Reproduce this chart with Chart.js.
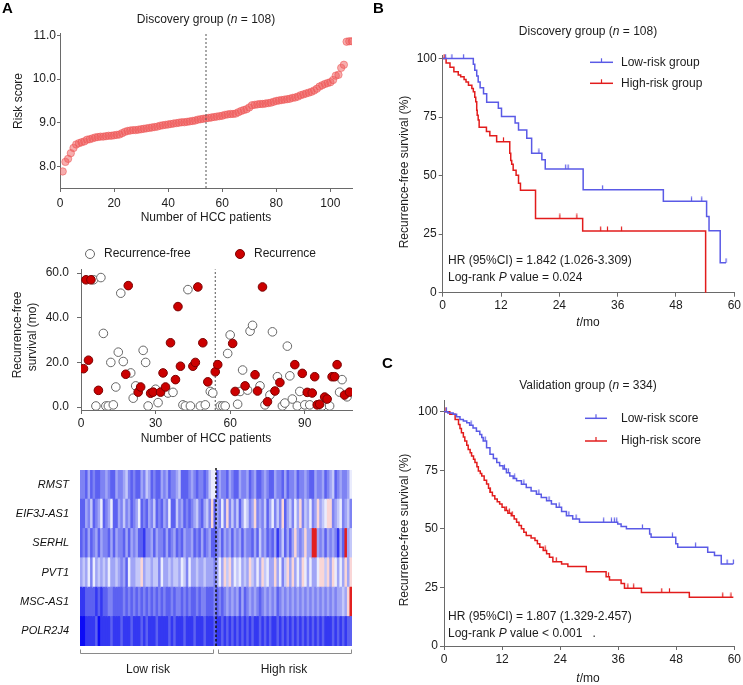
<!DOCTYPE html>
<html>
<head>
<meta charset="utf-8">
<script src="https://cdn.jsdelivr.net/npm/chart.js@4"></script>
<style>
  body { margin: 0; background: #fff; }
  #wrap { position: relative; width: 743px; height: 685px; }
  canvas { position: absolute; }
</style>
</head>
<body>
<div id="wrap">
  <canvas id="riskChart" width="365" height="230" style="left:0;top:0"></canvas>
  <canvas id="rfsChart" width="365" height="230" style="left:0;top:230px"></canvas>
  <canvas id="heatChart" width="365" height="225" style="left:0;top:460px"></canvas>
  <canvas id="kmDiscovery" width="373" height="335" style="left:370px;top:0"></canvas>
  <canvas id="kmValidation" width="373" height="345" style="left:370px;top:340px"></canvas>
</div>
<script>
// ---- data ----
const riskScores = [
  7.88, 8.10, 8.17, 8.30, 8.42, 8.50, 8.53, 8.55, 8.57, 8.61,
  8.62, 8.64, 8.66, 8.67, 8.68, 8.68, 8.69, 8.70, 8.70, 8.71,
  8.72, 8.73, 8.76, 8.79, 8.81, 8.82, 8.83, 8.83, 8.84, 8.85,
  8.86, 8.87, 8.88, 8.89, 8.90, 8.91, 8.93, 8.94, 8.95, 8.96,
  8.97, 8.98, 8.99, 9.00, 9.01, 9.01, 9.02, 9.03, 9.04, 9.05,
  9.07, 9.08, 9.09, 9.10, 9.11, 9.12, 9.13, 9.14, 9.15, 9.16,
  9.18, 9.19, 9.20, 9.20, 9.21, 9.24, 9.27, 9.29, 9.31, 9.35,
  9.40, 9.41, 9.42, 9.43, 9.43, 9.44, 9.45, 9.46, 9.48, 9.50,
  9.51, 9.52, 9.53, 9.54, 9.55, 9.57, 9.58, 9.60, 9.63, 9.65,
  9.67, 9.69, 9.71, 9.74, 9.78, 9.83, 9.86, 9.89, 9.91, 9.93,
  9.98, 10.08, 10.10, 10.26, 10.33, 10.86, 10.87, 10.87
];
const riskCutoff = 54;
const riskXTicks = [0, 20, 40, 60, 80, 100];
const riskYTicks = [8, 9, 10, 11];

const rfsMonths = [
  17.2, 57, 21, 57, 57, 0.5, 7.5, 58, 33, 0.5,
  0.5, 20, 1, 9, 24.6, 51, 20.4, 14.7, 54.4, 15.3,
  4, 9.5, 6.7, 9, 25.4, 20, 0.5, 6.2, 6.7, 8,
  2, 6.7, 15.3, 9, 6.3, 28.8, 6.6, 12.3, 45, 18.3,
  1, 0.5, 52.6, 0.5, 18.3, 20, 53.8, 0.5, 28.8, 1,
  11.3, 7, 6.3, 15.8, 19, 0.5, 0.5, 0.5, 24, 32.3,
  28.5, 7, 1.3, 7, 16.6, 9.5, 7.6, 34, 36.6, 14.5,
  7.2, 9.5, 53.8, 1, 2.4, 5.4, 33.7, 7.2, 13.6, 11,
  0.5, 1.8, 27.3, 14, 3.6, 19, 0.5, 7, 15.1, 1,
  6.6, 1, 6.3, 13.6, 1, 1.3, 0.5, 4.5, 3.6, 0.5,
  13.6, 13.6, 19, 6.7, 12.3, 5.4, 4.6, 6.7
];
const rfsEvent = [
  1, 1, 1, 1, 0, 0, 1, 0, 0, 0,
  0, 0, 0, 0, 0, 0, 0, 1, 1, 0,
  0, 0, 1, 1, 0, 0, 0, 1, 1, 0,
  0, 1, 1, 1, 0, 1, 0, 1, 1, 1,
  0, 0, 0, 0, 1, 1, 1, 0, 1, 0,
  1, 0, 0, 1, 1, 0, 0, 0, 0, 0,
  1, 1, 0, 0, 0, 1, 0, 0, 0, 1,
  1, 0, 1, 0, 1, 0, 0, 1, 0, 1,
  0, 0, 0, 0, 0, 1, 0, 0, 1, 0,
  1, 0, 1, 1, 1, 1, 0, 1, 1, 0,
  1, 1, 1, 0, 0, 1, 0, 1
];
const rfsXTicks = [0, 30, 60, 90];
const rfsYTicks = [0, 20, 40, 60];

const genes = ['RMST', 'EIF3J-AS1', 'SERHL', 'PVT1', 'MSC-AS1', 'POLR2J4'];
// expression level per patient, 0 = deep blue ... 6 = white ... 9 = red
const geneLevelRows = [
  '332423223 343224334 532322435 423224342 334522234 323323566 243324322 433423422 343224332 423342334 322433423 452343346',
  '224352346 234622435 342346232 435232436 225342323 453245372 436373535 246534734 352463537 245364735 463474567 734563453',
  '232423424 332424332 424342213 342433242 342324334 232423422 342434243 424332425 342324135 242474347 449943424 343142945',
  '454636454 546445434 264455745 545536445 455465364 454454443 464757465 645475464 756447463 574746476 464467757 476464747',
  '112222121 223322223 232323232 323232322 323323232 232332223 232343434 242343432 343434234 343434343 434343434 343445479',
  '001111201 111211121 112111212 111211112 121112111 211121112 112121212 121212112 121211212 121212121 212121211 121212122'
];
const heatPalette = [
  'rgb(12,12,246)', 'rgb(52,56,242)', 'rgb(92,97,241)', 'rgb(126,131,243)', 'rgb(160,165,246)',
  'rgb(196,200,249)', 'rgb(234,236,253)', 'rgb(250,214,214)', 'rgb(245,150,150)', 'rgb(226,32,32)'
];

const kmMonthTicks = [0, 12, 24, 36, 48, 60];
const kmPctTicks = [0, 25, 50, 75, 100];

const bLowT = [0, 6.3, 6.6, 7.0, 7.3, 7.7, 8.4, 9.05, 11.45, 12.1, 14.9, 15.6, 17.3, 18.3, 20.4, 21.1, 28.9, 45.4, 54.3, 54.8, 57.1, 58.3];
const bLowS = [100, 97.5, 95, 92.5, 90, 87.5, 85, 81.3, 78.8, 75.2, 72.5, 69.5, 66, 59.5, 56.8, 52.8, 44, 39, 32.5, 26.4, 12.8, 12.8];
const bLowCensor = [0.6, 1.9, 4.3, 19.8, 25.3, 25.8, 32.9, 51.2, 53.3, 58.3];
const bHighT = [0, 0.7, 1.5, 2.3, 3.2, 3.7, 4.4, 4.8, 5.3, 6.0, 6.3, 6.6, 6.8, 7.0, 7.1, 7.3, 7.5, 9.0, 9.7, 11.1, 13.8, 14.0, 14.2, 14.5, 15.1, 15.6, 16.0, 19.1, 28.8, 54.1];
const bHighS = [100, 98.1, 96.3, 94.4, 93.0, 92.2, 91.0, 90.0, 88.6, 87.2, 85.8, 83.5, 81.5, 77.9, 75.8, 73.7, 70.6, 68.8, 67.0, 64.5, 59.5, 56.5, 54.8, 52.3, 50.2, 46.7, 43.8, 31.7, 26.3, 0];
const bHighCensor = [0.3, 12.5, 24.1, 27.6, 32.5, 33.9, 36.8];

const cLowT = [0, 0.8, 1.9, 2.6, 3.3, 4.0, 4.7, 5.3, 6.0, 6.7, 7.4, 7.8, 8.1, 8.8, 9.5, 10.2, 10.9, 11.5, 12.2, 12.9, 13.6, 14.3, 15.0, 16.0, 17.0, 18.0, 19.1, 20.1, 21.2, 22.2, 23.2, 24.3, 25.3, 26.6, 28.0, 35.9, 36.6, 37.7, 42.5, 42.8, 47.9, 48.3, 54.5, 55.9, 57.3, 59.8];
const cLowS = [100, 99.4, 98.9, 97.8, 96.7, 96.0, 95.3, 94.2, 93.1, 91.7, 90.3, 89.0, 87.5, 84.6, 81.8, 80.0, 78.3, 76.9, 75.5, 74.0, 72.6, 71.5, 70.5, 69.0, 67.6, 66.2, 64.8, 63.4, 62.0, 60.6, 59.2, 57.4, 55.6, 54.2, 52.8, 52.1, 51.0, 50.0, 47.8, 46.4, 43.6, 42.2, 40.0, 38.6, 35.0, 35.0];
const cLowCensor = [0.5, 5.6, 8.5, 12.5, 13.3, 14.6, 16.5, 19.6, 21.7, 23.8, 25.8, 27.3, 33.0, 34.6, 35.2, 35.7, 41.0, 47.2, 52.0, 58.5, 59.8];
const cHighT = [0, 1.2, 2.3, 3.0, 3.3, 3.6, 4.0, 4.3, 4.7, 5.0, 5.4, 5.7, 6.1, 6.4, 6.8, 7.1, 7.5, 7.8, 8.3, 8.8, 9.2, 9.5, 10.0, 10.5, 11.0, 11.5, 12.0, 12.6, 13.2, 13.9, 14.5, 15.0, 15.5, 16.0, 16.5, 17.0, 18.0, 18.8, 19.3, 19.8, 20.5, 21.2, 21.8, 22.5, 24.3, 25.6, 29.4, 33.5, 34.2, 36.6, 37.3, 40.8, 50.7, 59.8];
const cHighS = [100, 98.9, 96.7, 94.5, 92.8, 91.0, 89.2, 87.5, 85.7, 83.9, 82.5, 81.1, 79.7, 78.3, 76.5, 74.7, 73.6, 72.6, 70.8, 69.1, 67.3, 65.6, 64.1, 62.7, 61.6, 60.6, 59.2, 57.8, 56.7, 55.6, 54.2, 52.8, 51.4, 50.0, 48.6, 47.2, 46.1, 45.0, 43.6, 42.2, 40.8, 39.4, 37.9, 36.0, 35.0, 33.9, 31.7, 29.6, 28.2, 26.7, 24.6, 22.8, 20.8, 20.8];
const cHighCensor = [0.4, 9.6, 12.9, 13.5, 14.1, 20.9, 23.2, 34.0, 38.0, 39.2, 45.0, 46.6, 57.6, 59.3];

// ---- shared styling ----
const FONT = '"Liberation Sans", Arial, sans-serif';
const TEXT = '#1c1c1c';
const AXIS = '#6a6a6a';
const BLUE = '#5a5ae6';
const RED = '#e21c1c';
Chart.defaults.font.family = FONT;
Chart.defaults.font.size = 12;
Chart.defaults.color = TEXT;

function richText(ctx, parts, x, y, opts = {}) {
  const size = opts.size || 12;
  const weight = opts.bold ? 'bold ' : '';
  const fontFor = it => `${it ? 'italic ' : ''}${weight}${size}px ${FONT}`;
  let total = 0;
  parts.forEach(([t, it]) => { ctx.font = fontFor(it); total += ctx.measureText(t).width; });
  ctx.save();
  ctx.translate(x, y);
  if (opts.rotate) ctx.rotate(opts.rotate);
  ctx.fillStyle = opts.color || TEXT;
  ctx.textBaseline = 'middle';
  ctx.textAlign = 'left';
  let cx = opts.align === 'left' ? 0 : opts.align === 'right' ? -total : -total / 2;
  parts.forEach(([t, it]) => { ctx.font = fontFor(it); ctx.fillText(t, cx, 0); cx += ctx.measureText(t).width; });
  ctx.restore();
}

function linearAxis(min, max, tickValues, fmt, fitSize, isY, pad, tickLen) {
  return {
    type: 'linear', min, max,
    afterBuildTicks: s => { s.ticks = tickValues.map(v => ({ value: v })); },
    afterFit: s => { if (isY) s.width = fitSize; else s.height = fitSize; },
    grid: { drawOnChartArea: false, drawTicks: true, tickLength: tickLen, color: AXIS },
    border: { display: true, color: AXIS, width: 1 },
    ticks: { padding: pad, color: TEXT, font: { size: 12 }, autoSkip: false, maxRotation: 0, callback: v => fmt(v) }
  };
}

function overlay(id, draw) {
  return { id, afterDraw: chart => draw(chart.ctx, chart) };
}

const baseOptions = {
  responsive: false,
  animation: false,
  events: [],
  plugins: { legend: { display: false }, tooltip: { enabled: false } }
};

// ---- A: risk score ----
new Chart(document.getElementById('riskChart'), {
  type: 'scatter',
  data: {
    datasets: [
      {
        type: 'line',
        data: [{ x: riskCutoff, y: 7.5 }, { x: riskCutoff, y: 11.06 }],
        borderColor: '#555', borderWidth: 1, borderDash: [2, 2], pointRadius: 0, order: 0
      },
      {
        data: riskScores.map((v, i) => ({ x: i + 1, y: v })),
        backgroundColor: 'rgba(240,92,92,0.5)', borderColor: 'rgba(236,84,84,0.55)',
        borderWidth: 1, pointRadius: 3.7, order: 1
      }
    ]
  },
  options: {
    ...baseOptions,
    layout: { padding: { left: 0, top: 33, right: 13, bottom: 0 } },
    scales: {
      x: linearAxis(0, 108, riskXTicks, v => v, 42, false, 4, 4),
      y: linearAxis(7.5, 11.06, riskYTicks, v => v.toFixed(1), 60, true, 1, 3)
    }
  },
  plugins: [overlay('riskText', ctx => {
    richText(ctx, [['A', false]], 2, 9, { bold: true, size: 15, align: 'left', color: '#000' });
    richText(ctx, [['Discovery group (', false], ['n', true], [' = 108)', false]], 206, 20);
    richText(ctx, [['Number of HCC patients', false]], 206, 218);
    richText(ctx, [['Risk score', false]], 19, 101, { rotate: -Math.PI / 2 });
  })]
});

// ---- A: recurrence-free survival per patient ----
const rfsPoints = rfsMonths.map((v, i) => ({ x: i + 1, y: v, e: rfsEvent[i] }));
new Chart(document.getElementById('rfsChart'), {
  type: 'scatter',
  data: {
    datasets: [
      {
        type: 'line',
        data: [{ x: riskCutoff, y: -1.3 }, { x: riskCutoff, y: 61.7 }],
        borderColor: '#555', borderWidth: 1, borderDash: [2, 2], pointRadius: 0, order: 2
      },
      {
        data: rfsPoints.filter(p => p.e === 0),
        backgroundColor: '#fff', borderColor: '#666', borderWidth: 1, pointRadius: 4.3, order: 1
      },
      {
        data: rfsPoints.filter(p => p.e === 1),
        backgroundColor: '#cc0000', borderColor: '#7a0000', borderWidth: 1, pointRadius: 4.3, order: 0
      }
    ]
  },
  options: {
    ...baseOptions,
    layout: { padding: { left: 0, top: 39.3, right: 13, bottom: 0 } },
    scales: {
      x: linearAxis(0, 109, rfsXTicks, v => v, 50, false, 2, 4),
      y: linearAxis(-1.3, 61.7, rfsYTicks, v => v.toFixed(1), 81, true, 8, 4)
    }
  },
  plugins: [overlay('rfsText', ctx => {
    ctx.save();
    ctx.lineWidth = 1;
    ctx.beginPath(); ctx.arc(90, 24, 4.5, 0, Math.PI * 2);
    ctx.fillStyle = '#fff'; ctx.fill(); ctx.strokeStyle = '#666'; ctx.stroke();
    ctx.beginPath(); ctx.arc(240, 24, 4.5, 0, Math.PI * 2);
    ctx.fillStyle = '#cc0000'; ctx.fill(); ctx.strokeStyle = '#7a0000'; ctx.stroke();
    ctx.restore();
    richText(ctx, [['Recurrence-free', false]], 104, 24, { align: 'left' });
    richText(ctx, [['Recurrence', false]], 254, 24, { align: 'left' });
    richText(ctx, [['Recurrence-free', false]], 18, 105, { rotate: -Math.PI / 2 });
    richText(ctx, [['survival (mo)', false]], 33, 107, { rotate: -Math.PI / 2 });
    richText(ctx, [['Number of HCC patients', false]], 206, 209);
  })]
});

// ---- A: heatmap (one overlapping floating bar per patient column) ----
const geneLevels = geneLevelRows.map(r => r.replace(/ /g, '').split('').map(Number));
const heatDatasets = geneLevels[0].map((_, c) => ({
  data: genes.map(() => [c, c + 1.5]),
  backgroundColor: genes.map((g, r) => heatPalette[geneLevels[r][c]]),
  borderWidth: 0,
  grouped: false,
  order: -c,
  barPercentage: 1.04,
  categoryPercentage: 1
}));
new Chart(document.getElementById('heatChart'), {
  type: 'bar',
  data: { labels: genes, datasets: heatDatasets },
  options: {
    ...baseOptions,
    indexAxis: 'y',
    layout: { padding: { left: 0, top: 10, right: 13, bottom: 39 } },
    scales: {
      x: { type: 'linear', min: 0, max: 108, display: false },
      y: {
        type: 'category', offset: true,
        afterFit: s => { s.width = 80; s.paddingTop = 0; s.paddingBottom = 0; },
        grid: { display: false, drawTicks: false },
        border: { display: false },
        ticks: { padding: 11, color: '#111', font: { size: 11, style: 'italic' } }
      }
    }
  },
  plugins: [overlay('heatText', (ctx, chart) => {
    const xs = chart.scales.x;
    const area = chart.chartArea;
    const cut = xs.getPixelForValue(riskCutoff);
    ctx.save();
    ctx.strokeStyle = '#111'; ctx.lineWidth = 1.5; ctx.setLineDash([2.5, 2]);
    ctx.beginPath(); ctx.moveTo(cut, area.top - 2); ctx.lineTo(cut, area.bottom + 2); ctx.stroke();
    ctx.setLineDash([]);
    ctx.strokeStyle = '#8a8a8a'; ctx.lineWidth = 1;
    const by = 193.5;
    [[xs.getPixelForValue(0), cut - 2], [cut + 2, xs.getPixelForValue(108)]].forEach(([a, b]) => {
      ctx.beginPath();
      ctx.moveTo(a + 0.5, by - 4); ctx.lineTo(a + 0.5, by); ctx.lineTo(b - 0.5, by); ctx.lineTo(b - 0.5, by - 4);
      ctx.stroke();
    });
    ctx.restore();
    richText(ctx, [['Low risk', false]], (xs.getPixelForValue(0) + cut) / 2, 210);
    richText(ctx, [['High risk', false]], (cut + xs.getPixelForValue(108)) / 2, 210);
  })]
});

// ---- B and C: Kaplan-Meier curves ----
function survAt(t, s, time) {
  let v = s[0];
  for (let i = 0; i < t.length; i++) if (t[i] <= time) v = s[i];
  return v;
}

function tickMark(color) {
  const c = document.createElement('canvas');
  c.width = 3; c.height = 10;
  const g = c.getContext('2d');
  g.strokeStyle = color; g.lineWidth = 1.2;
  g.beginPath(); g.moveTo(1.5, 0.5); g.lineTo(1.5, 5); g.stroke();
  return c;
}

function kmDatasets(t, s, censor, color) {
  return [
    {
      data: t.map((x, i) => ({ x, y: s[i] })),
      stepped: true, borderColor: color, borderWidth: 1.5, pointRadius: 0, fill: false
    },
    {
      data: censor.map(x => ({ x, y: survAt(t, s, x) })),
      showLine: false, pointStyle: tickMark(color), pointRadius: 3
    }
  ];
}

function kmChart(id, cfg) {
  new Chart(document.getElementById(id), {
    type: 'line',
    data: { datasets: [...kmDatasets(cfg.lowT, cfg.lowS, cfg.lowC, BLUE), ...kmDatasets(cfg.highT, cfg.highS, cfg.highC, RED)] },
    options: {
      ...baseOptions,
      clip: false,
      layout: { padding: { left: 0, top: cfg.top, right: cfg.right, bottom: 0 } },
      scales: {
        x: linearAxis(0, 60, kmMonthTicks, v => v, cfg.xh, false, 2, 4),
        y: linearAxis(0, cfg.ymax, kmPctTicks, v => v, cfg.yw, true, 2, 4)
      }
    },
    plugins: [overlay(id + 'Text', ctx => {
      richText(ctx, [[cfg.letter, false]], cfg.letterPos[0], cfg.letterPos[1], { bold: true, size: 15, align: 'left', color: '#000' });
      richText(ctx, cfg.title, 218, cfg.titleY);
      richText(ctx, [['Recurrence-free survival (%)', false]], 35, cfg.yTitleY, { rotate: -Math.PI / 2 });
      richText(ctx, [['t', true], ['/mo', false]], 218, cfg.xTitleY);
      cfg.legend.forEach(([label, color], i) => {
        const y = cfg.legendY[i];
        ctx.save();
        ctx.strokeStyle = color; ctx.lineWidth = 1.5;
        ctx.beginPath(); ctx.moveTo(cfg.legendX[0], y); ctx.lineTo(cfg.legendX[1], y); ctx.stroke();
        const mid = (cfg.legendX[0] + cfg.legendX[1]) / 2;
        ctx.lineWidth = 1.2;
        ctx.beginPath(); ctx.moveTo(mid, y - 4); ctx.lineTo(mid, y); ctx.stroke();
        ctx.restore();
        richText(ctx, [[label, false]], 251, y, { align: 'left' });
      });
      richText(ctx, [[cfg.hr, false]], 78, cfg.statY[0], { align: 'left' });
      richText(ctx, [['Log-rank ', false], ['P', true], [cfg.p, false]], 78, cfg.statY[1], { align: 'left' });
    })]
  });
}

kmChart('kmDiscovery', {
  lowT: bLowT, lowS: bLowS, lowC: bLowCensor,
  highT: bHighT, highS: bHighS, highC: bHighCensor,
  top: 55, right: 8.7, xh: 42.3, yw: 72.7, ymax: 101.5,
  letter: 'B', letterPos: [3, 9],
  title: [['Discovery group (', false], ['n', true], [' = 108)', false]], titleY: 31.7,
  yTitleY: 172, xTitleY: 322.7,
  legend: [['Low-risk group', BLUE], ['High-risk group', RED]],
  legendX: [220, 243], legendY: [62.3, 83.3],
  hr: 'HR (95%CI) = 1.842 (1.026-3.309)', p: ' value = 0.024', statY: [261, 277.7]
});

kmChart('kmValidation', {
  lowT: cLowT, lowS: cLowS, lowC: cLowCensor,
  highT: cHighT, highS: cHighS, highC: cHighCensor,
  top: 60, right: 8, xh: 39, yw: 74, ymax: 105,
  letter: 'C', letterPos: [12, 24],
  title: [['Validation group (', false], ['n', true], [' = 334)', false]], titleY: 45.7,
  yTitleY: 190, xTitleY: 339,
  legend: [['Low-risk score', BLUE], ['High-risk score', RED]],
  legendX: [215, 237], legendY: [78.3, 101],
  hr: 'HR (95%CI) = 1.807 (1.329-2.457)', p: ' value < 0.001   .', statY: [276.7, 293.3]
});
</script>
</body>
</html>
